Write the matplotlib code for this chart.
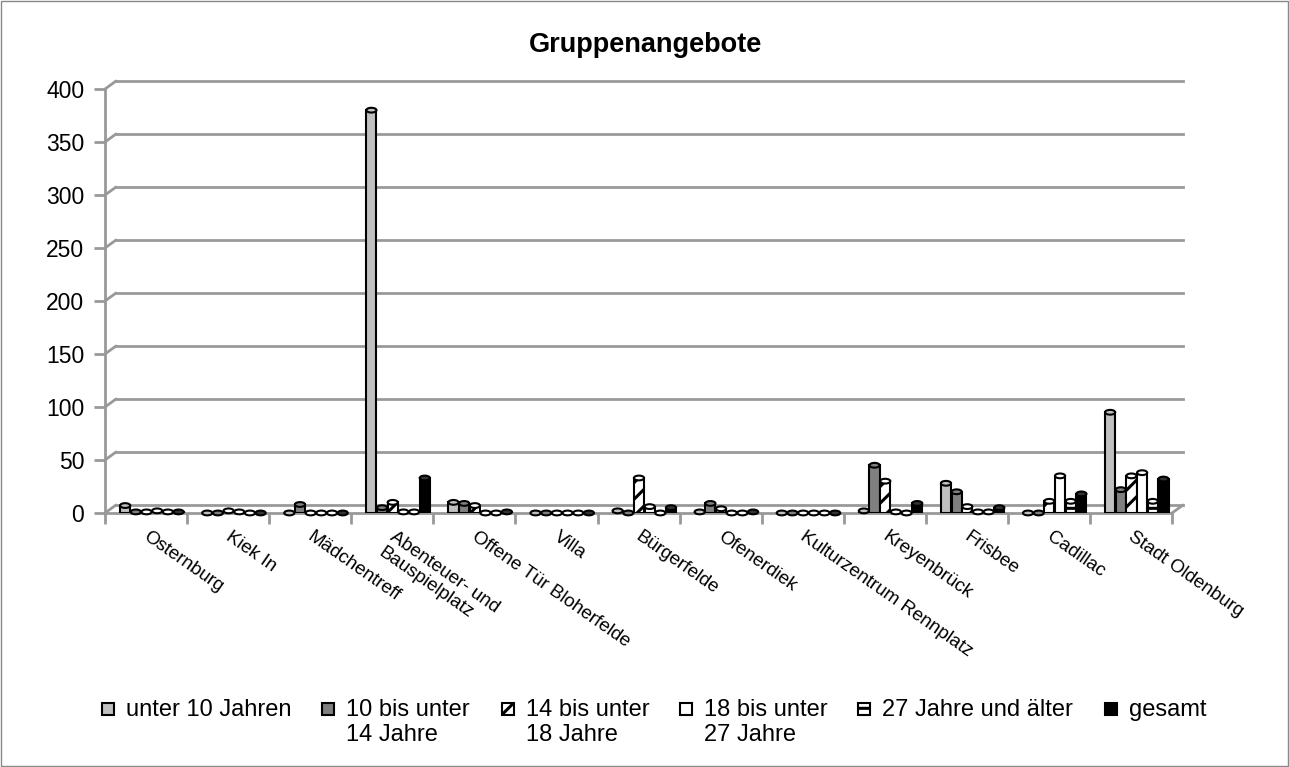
import matplotlib
matplotlib.use("Agg")
import matplotlib.pyplot as plt
from matplotlib.patches import Rectangle, Ellipse
from matplotlib.transforms import offset_copy, ScaledTranslation
import numpy as np

plt.rcParams['font.family'] = ['Liberation Sans', 'DejaVu Sans']
plt.rcParams['hatch.linewidth'] = 2.2

# Data
categories = ["Osternburg", "Kiek In", "Mädchentreff", "Abenteuer- und\nBauspielplatz",
              "Offene Tür Bloherfelde", "Villa", "Bürgerfelde", "Ofenerdiek",
              "Kulturzentrum Rennplatz", "Kreyenbrück", "Frisbee", "Cadillac", "Stadt Oldenburg"]
series_names = ["unter 10 Jahren", "10 bis unter\n14 Jahre", "14 bis unter\n18 Jahre",
                "18 bis unter\n27 Jahre", "27 Jahre und älter", "gesamt"]
unter10 = [7, 0, 0, 380, 10, 0, 2, 1, 0, 2, 28, 0, 95]
u10bis14 = [1, 0, 8, 5, 9, 0, 0, 9, 0, 45, 20, 0, 22]
u14bis18 = [1, 2, 0, 10, 7, 0, 33, 4, 0, 30, 6, 11, 35]
u18bis27 = [2, 1, 0, 1, 0, 0, 6, 0, 0, 1, 1, 35, 38]
ab27 = [1, 0, 0, 1, 0, 0, 0, 0, 0, 0, 1, 11, 11]
gesamt = [1, 0, 0, 33, 1, 0, 5, 1, 0, 9, 5, 18, 32]
yticks = [0, 50, 100, 150, 200, 250, 300, 350, 400]

series = [unter10, u10bis14, u14bis18, u18bis27, ab27, gesamt]
colors = ["#c0c0c0", "#808080", "white", "white", "white", "black"]
hatches = [None, None, "//", None, "-", None]

fig = plt.figure(figsize=(12.89, 7.67), dpi=100)
ax = fig.add_axes([0.0815, 0.3312, 0.8278, 0.5528])
ax.set_ylim(0, 400)
ax.set_xlim(-0.5, len(categories) - 0.5)

GRID = "#999999"
# 3D look: back wall / floor shifted a bit up and right
back = offset_copy(ax.transData, fig=fig, x=11, y=8, units="dots")
x0, x1 = -0.5, len(categories) - 0.5
for yv in yticks:
    ax.plot([x0, x1], [yv, yv], color=GRID, lw=2, transform=back, clip_on=False, zorder=1)
    # connector from front axis to back wall
    ax.annotate("", xy=(x0, yv), xycoords=back, xytext=(x0, yv), textcoords="data",
                arrowprops=dict(arrowstyle="-", color=GRID, lw=2, shrinkA=0, shrinkB=0))
ax.annotate("", xy=(x1, 0), xycoords=back, xytext=(x1, 0), textcoords="data",
            arrowprops=dict(arrowstyle="-", color=GRID, lw=2, shrinkA=0, shrinkB=0))

x = np.arange(len(categories))
w = 0.13
shift = 0.07
cap_h = 4.5
for i, vals in enumerate(series):
    pos = x + (i - 2.5) * w + shift
    ax.bar(pos, vals, width=w * 0.95, color=colors[i], hatch=hatches[i],
           edgecolor="black", linewidth=1.5, zorder=3)
    for px, v in zip(pos, vals):
        ax.add_patch(Ellipse((px, v), w * 0.95, cap_h, facecolor=colors[i] if i != 5 else "#333333",
                             edgecolor="black", linewidth=1.5, zorder=4, clip_on=False))

ax.set_yticks(yticks)
ax.tick_params(axis="y", labelsize=16.5, color=GRID, length=8, width=2, pad=7)

ax.set_xticks(x)
ax.set_xticklabels(categories, rotation=-35, ha="left", va="top",
                   rotation_mode="anchor", fontsize=13.5)
ax.tick_params(axis="x", length=0, pad=11)
for lab in ax.get_xticklabels():
    lab.set_transform(lab.get_transform() + ScaledTranslation(0.04, 0, fig.dpi_scale_trans))
ax.set_xticks(np.arange(len(categories) + 1) - 0.5, minor=True)
ax.tick_params(axis="x", which="minor", length=8, color=GRID, width=2)

for s in ["top", "right"]:
    ax.spines[s].set_visible(False)
for s in ["left", "bottom"]:
    ax.spines[s].set_color(GRID)
    ax.spines[s].set_linewidth(2)

fig.text(0.501, 0.9413, "Gruppenangebote", ha="center", va="center", fontsize=19.5, fontweight="bold")

# legend drawn by hand so two-line labels hang from the first line
leg_px = [102, 322, 502, 680, 858, 1105]
for i in range(len(series)):
    fig.patches.append(Rectangle((leg_px[i] / 1289, 1 - 715 / 767), 12 / 1289, 12 / 767,
                                 transform=fig.transFigure, facecolor=colors[i], edgecolor="black",
                                 hatch=hatches[i], linewidth=1.5))
    fig.text((leg_px[i] + 24) / 1289, 1 - 699 / 767, series_names[i], ha="left", va="top",
             fontsize=17, linespacing=1.2)

fig.patches.append(Rectangle((0.001, 0.001), 0.998, 0.998, transform=fig.transFigure,
                             fill=False, edgecolor="#888888", linewidth=1))

fig.savefig("out.png", dpi=100)
